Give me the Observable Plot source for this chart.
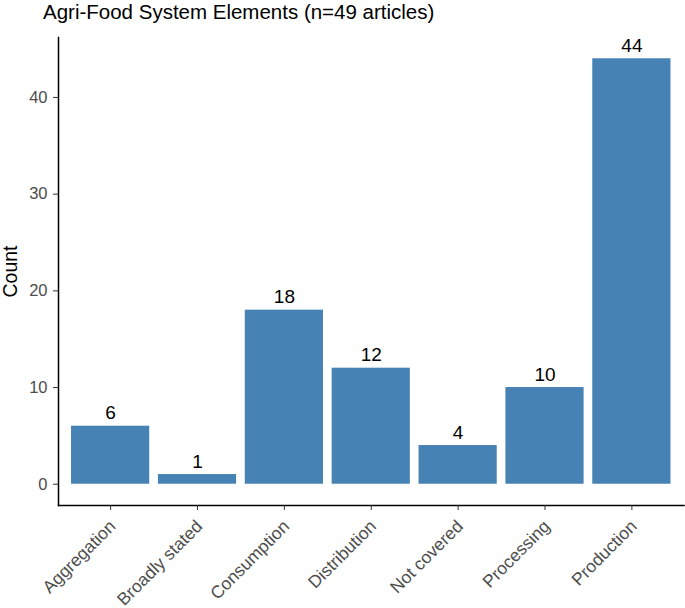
<!DOCTYPE html>
<html>
<head>
<meta charset="utf-8">
<script src="https://cdn.jsdelivr.net/npm/d3@7"></script>
<script src="https://cdn.jsdelivr.net/npm/@observablehq/plot@0.6"></script>
<style>
  body { margin: 0; background: #fff; }
  #title { height: 30px; line-height: 24px; padding-left: 43px; font-family: "Liberation Sans", Arial, sans-serif; font-size: 20.5px; color: #000; white-space: nowrap; }
  #chart svg { display: block; }
</style>
</head>
<body>
<div id="title">Agri-Food System Elements (n=49 articles)</div>
<div id="chart"></div>
<script>
const categories = ["Aggregation", "Broadly stated", "Consumption", "Distribution", "Not covered", "Processing", "Production"];
const counts = [6, 1, 18, 12, 4, 10, 44];
const yTicks = [0, 10, 20, 30, 40];

const data = categories.map((c, i) => ({category: c, count: counts[i]}));

const chart = Plot.plot({
  width: 685,
  height: 578,
  marginTop: 7,
  marginBottom: 103,
  marginLeft: 58,
  marginRight: 1.5,
  style: {fontFamily: "'Liberation Sans', Arial, sans-serif", background: "#fff"},
  x: {type: "band", domain: categories, paddingInner: 0.1, paddingOuter: 0.15, round: false, label: null},
  y: {domain: [-2.2, 46.2], label: null},
  marks: [
    Plot.barY(data, {x: "category", y: "count", fill: "#4682B4"}),
    Plot.text(data, {x: "category", y: "count", text: d => String(d.count), lineAnchor: "bottom", dy: -7, fontSize: 19, fill: "#000"}),
    Plot.frame({anchor: "left", stroke: "#000", strokeWidth: 1.5}),
    Plot.frame({anchor: "bottom", stroke: "#000", strokeWidth: 1.5}),
    Plot.axisY({ticks: yTicks, tickSize: 5, tickPadding: 6, fontSize: 16.5, fill: "#4d4d4d", stroke: "#333", label: null}),
    Plot.axisY({ticks: [], label: "Count", labelAnchor: "center", labelArrow: "none", labelOffset: 55, fontSize: 19.5, fill: "#000"}),
    Plot.axisX({tickSize: 5, tickFormat: () => "", stroke: "#333", label: null}),
    Plot.axisX({tickSize: 0, tickPadding: 18, tickRotate: -45, dx: 2, fontSize: 17.5, fill: "#4d4d4d", label: null})
  ]
});
document.getElementById("chart").appendChild(chart);
</script>
</body>
</html>
